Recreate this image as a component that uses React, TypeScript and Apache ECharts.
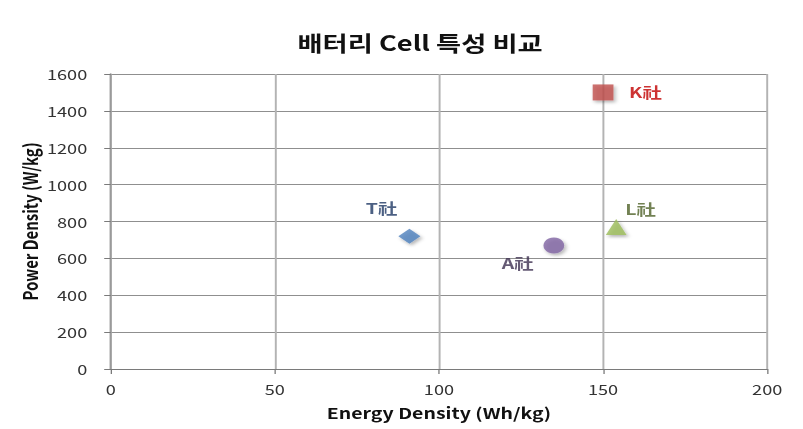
import React, { useEffect, useRef } from "react";
import * as echarts from "echarts";

const companies = ["T社", "A社", "L社", "K社"];
const energyDensity = [91, 135, 154, 150];
const powerDensity = [720, 670, 770, 1500];
const markerColors = ["#4F81BD", "#8064A2", "#9BBB59", "#C0504D"];
const labelColors = ["#1F3864", "#3F3151", "#4F6228", "#C00000"];
const symbols = ["diamond", "circle", "triangle", "rect"];
const symbolSizes: (number | number[])[] = [[17, 15], [16, 16], [16, 16], [16, 16]];
const labelPositions: any[] = [[-25, -29], [-32, 18], [15, -18], [28, 0]];

const xTicks = [0, 50, 100, 150, 200];
const yTicks = [0, 200, 400, 600, 800, 1000, 1200, 1400, 1600];

const STRETCH = 1.3;
const OUTER_W = 787;
const OUTER_H = 421;

export default function App() {
  const ref = useRef<HTMLDivElement>(null);
  useEffect(() => {
    if (!ref.current) return;
    const chart = echarts.init(ref.current, null, { renderer: "svg" });
    const font = "'Noto Sans CJK KR', 'Noto Sans', sans-serif";
    const series = companies.map((name, i) => ({
      name,
      type: "scatter",
      symbol: symbols[i],
      symbolSize: symbolSizes[i],
      data: [[energyDensity[i], powerDensity[i]]],
      itemStyle: {
        color: markerColors[i],
        shadowBlur: 3,
        shadowOffsetX: 1.5,
        shadowOffsetY: 2,
        shadowColor: "rgba(0,0,0,0.35)",
      },
      label: {
        show: true,
        formatter: name,
        position: labelPositions[i],
        color: labelColors[i],
        fontFamily: font,
        fontWeight: "bold",
        fontSize: 15,
      },
    }));
    chart.setOption({
      animation: false,
      title: {
        text: "배터리 Cell 특성 비교",
        left: 312,
        top: 18,
        textAlign: "center",
        textStyle: { fontFamily: font, fontWeight: "bold", fontSize: 21, color: "#111" },
      },
      grid: { left: 79, right: 21, top: 66, bottom: 60, containLabel: false, outerBoundsMode: "none" },
      xAxis: {
        type: "value",
        min: xTicks[0],
        max: xTicks[xTicks.length - 1],
        interval: 50,
        name: "Energy Density (Wh/kg)",
        nameLocation: "middle",
        nameGap: 36,
        nameMoveOverlap: false,
        nameTextStyle: { fontFamily: font, fontWeight: "bold", fontSize: 15, color: "#111" },
        axisLine: { show: true, lineStyle: { color: "#7a7a7a", width: 1 } },
        axisTick: { show: true, length: 5, lineStyle: { color: "#7a7a7a" } },
        axisLabel: { fontFamily: font, fontSize: 14, color: "#333", margin: 13 },
        splitLine: { show: true, lineStyle: { color: "#b3b3b3", width: 1.5 } },
      },
      yAxis: {
        type: "value",
        min: yTicks[0],
        max: yTicks[yTicks.length - 1],
        interval: 200,
        name: "Power Density (W/kg)",
        nameLocation: "middle",
        nameGap: 55,
        nameMoveOverlap: false,
        nameTextStyle: { fontFamily: font, fontWeight: "bold", fontSize: 15, color: "#111" },
        axisLine: { show: true, lineStyle: { color: "#9a9a9a", width: 1.5 } },
        axisTick: { show: true, length: 5, lineStyle: { color: "#7a7a7a" } },
        axisLabel: {
          fontFamily: font,
          fontSize: 14,
          color: "#333",
          margin: 18,
          formatter: (v: number) => String(v),
        },
        splitLine: { show: true, lineStyle: { color: "#8f8f8f", width: 1 } },
      },
      series,
    });
    return () => chart.dispose();
  }, []);
  return (
    <div style={{ width: OUTER_W, height: OUTER_H, overflow: "hidden" }}>
      <div
        ref={ref}
        style={{
          width: Math.round(OUTER_W / STRETCH),
          height: OUTER_H,
          transform: `scaleX(${STRETCH})`,
          transformOrigin: "0 0",
        }}
      />
    </div>
  );
}
